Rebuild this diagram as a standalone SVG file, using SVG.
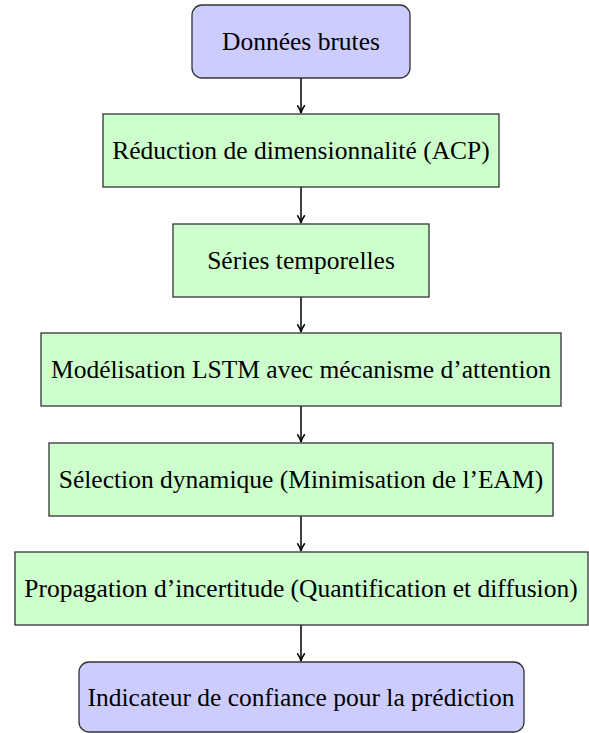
<svg xmlns="http://www.w3.org/2000/svg" width="589" height="733" viewBox="0 0 589 733">
  <style>
    .terminal { fill: #ccccff; stroke: #333333; stroke-width: 1.3; }
    .step { fill: #ccffcc; stroke: #333333; stroke-width: 1.3; }
    text { font-family: 'Liberation Serif', 'Nimbus Roman', 'Times New Roman', Times, serif; font-size: 25.5px; fill: #000000; text-anchor: middle; }
    .link { stroke: #000000; stroke-width: 1.5; fill: none; marker-end: url(#arrowhead); }
  </style>
  <defs>
    <marker id="arrowhead" viewBox="0 0 10 10" refX="9" refY="5" markerWidth="9" markerHeight="9" markerUnits="userSpaceOnUse" orient="auto">
      <path d="M1,1.2 Q5,4 9,5 Q5,6 1,8.8" fill="none" stroke="#000000" stroke-width="1.7" stroke-linecap="round"/>
    </marker>
  </defs>
  <rect width="589" height="733" fill="#ffffff"/>

  <g id="connectors">
    <line class="link" x1="301" y1="78" x2="301" y2="113"/>
    <line class="link" x1="301" y1="187" x2="301" y2="223"/>
    <line class="link" x1="301" y1="297" x2="301" y2="332"/>
    <line class="link" x1="301" y1="406" x2="301" y2="442"/>
    <line class="link" x1="301" y1="516" x2="301" y2="551"/>
    <line class="link" x1="301" y1="625" x2="301" y2="661"/>
  </g>

  <g id="donnees-brutes">
    <rect class="terminal" x="192" y="5" width="218" height="73" rx="10" ry="10"/>
    <text x="301" y="50" font-family="Liberation Serif, serif">Données brutes</text>
  </g>

  <g id="reduction-acp">
    <rect class="step" x="103" y="114" width="396" height="73"/>
    <text x="301" y="159" font-family="Liberation Serif, serif">Réduction de dimensionnalité (ACP)</text>
  </g>

  <g id="series-temporelles">
    <rect class="step" x="173" y="224" width="256" height="73"/>
    <text x="301" y="269" font-family="Liberation Serif, serif">Séries temporelles</text>
  </g>

  <g id="modelisation-lstm">
    <rect class="step" x="41" y="333" width="520" height="73"/>
    <text x="301" y="378" font-family="Liberation Serif, serif">Modélisation LSTM avec mécanisme d’attention</text>
  </g>

  <g id="selection-dynamique">
    <rect class="step" x="49" y="443" width="504" height="73"/>
    <text x="301" y="488" font-family="Liberation Serif, serif">Sélection dynamique (Minimisation de l’EAM)</text>
  </g>

  <g id="propagation-incertitude">
    <rect class="step" x="15" y="552" width="573" height="73"/>
    <text x="301" y="597" font-family="Liberation Serif, serif">Propagation d’incertitude (Quantification et diffusion)</text>
  </g>

  <g id="indicateur-confiance">
    <rect class="terminal" x="79" y="662" width="445" height="70" rx="10" ry="10"/>
    <text x="301" y="706" font-family="Liberation Serif, serif">Indicateur de confiance pour la prédiction</text>
  </g>
</svg>
